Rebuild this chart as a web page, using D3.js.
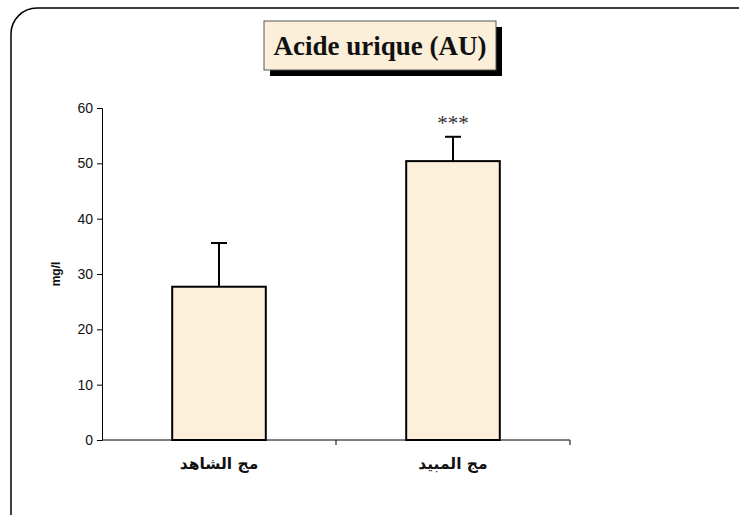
<!DOCTYPE html>
<html>
<head>
<meta charset="utf-8">
<script src="https://cdn.jsdelivr.net/npm/d3@7"></script>
<style>
  html, body { margin: 0; padding: 0; background: #fff; }
  svg { display: block; }
</style>
</head>
<body>
<svg id="chart" width="739" height="515"></svg>
<script>
// Uric acid levels per group (mg/l), mean and upper error
const categories = ["مج الشاهد", "مج المبيد"];
const means = [27.7, 50.4];
const errors = [7.9, 4.4];
const significance = ["", "***"];
const yTicks = [0, 10, 20, 30, 40, 50, 60];
const title = "Acide urique (AU)";
const yLabel = "mg/l";

const svg = d3.select("#chart");

// Rounded frame running off the right and bottom edges
svg.append("rect")
  .attr("x", 11).attr("y", 8)
  .attr("width", 760).attr("height", 540)
  .attr("rx", 26).attr("ry", 26)
  .attr("fill", "#fff")
  .attr("stroke", "#000").attr("stroke-width", 1.5);

const x = d3.scaleBand().domain(categories).range([102, 570]).paddingInner(0.6).paddingOuter(0.3);
const y = d3.scaleLinear().domain([0, 60]).range([440, 108]);

// Title box with drop shadow
const tb = { x: 264, y: 21, w: 232, h: 49 };
svg.append("rect")
  .attr("x", tb.x + 6).attr("y", tb.y + 6)
  .attr("width", tb.w).attr("height", tb.h)
  .attr("fill", "#000");
svg.append("rect")
  .attr("x", tb.x).attr("y", tb.y)
  .attr("width", tb.w).attr("height", tb.h)
  .attr("fill", "#fcefd9").attr("stroke", "#555").attr("stroke-width", 1);
svg.append("text")
  .attr("x", tb.x + tb.w / 2).attr("y", tb.y + tb.h / 2 + 9)
  .attr("text-anchor", "middle")
  .attr("font-family", "'Liberation Serif', 'Times New Roman', serif")
  .attr("font-weight", "bold").attr("font-size", 27)
  .attr("fill", "#111")
  .text(title);

// Y axis
const yAxis = d3.axisLeft(y).tickValues(yTicks).tickSize(5).tickPadding(4);
const gy = svg.append("g").attr("transform", "translate(102,0)").call(yAxis);
gy.select(".domain").attr("stroke", "#000").attr("stroke-width", 1);
gy.selectAll(".tick line").attr("stroke", "#000");
gy.selectAll(".tick text")
  .attr("font-family", "'Liberation Sans', Arial, sans-serif")
  .attr("font-size", 14).attr("fill", "#111");

// X axis: baseline with ticks at band boundaries
svg.append("line")
  .attr("x1", 102).attr("x2", 570).attr("y1", y(0)).attr("y2", y(0))
  .attr("stroke", "#000").attr("stroke-width", 1);
const bounds = [102, 336, 570];
svg.selectAll(".xtick").data(bounds.slice(1)).join("line")
  .attr("class", "xtick")
  .attr("x1", d => d).attr("x2", d => d)
  .attr("y1", y(0)).attr("y2", y(0) + 5)
  .attr("stroke", "#000");

// Category labels
svg.selectAll(".xlab").data(categories).join("text")
  .attr("class", "xlab")
  .attr("x", d => x(d) + x.bandwidth() / 2)
  .attr("y", 469)
  .attr("text-anchor", "middle")
  .attr("direction", "rtl")
  .attr("font-family", "'DejaVu Sans', 'Noto Sans', sans-serif")
  .attr("font-weight", "bold").attr("font-size", 15.5)
  .attr("fill", "#111")
  .text(d => d);

// Y label
svg.append("text")
  .attr("transform", `translate(60,${(y(0) + y(60)) / 2}) rotate(-90)`)
  .attr("text-anchor", "middle")
  .attr("font-family", "'Liberation Sans', Arial, sans-serif")
  .attr("font-weight", "bold").attr("font-size", 12)
  .attr("fill", "#111")
  .text(yLabel);

const data = categories.map((c, i) => ({ c, m: means[i], e: errors[i], s: significance[i] }));

// Error bars (upper only)
const cx = d => x(d.c) + x.bandwidth() / 2;
svg.selectAll(".err").data(data).join("line")
  .attr("class", "err")
  .attr("x1", cx).attr("x2", cx)
  .attr("y1", d => y(d.m)).attr("y2", d => y(d.m + d.e))
  .attr("stroke", "#000").attr("stroke-width", 2);
svg.selectAll(".cap").data(data).join("line")
  .attr("class", "cap")
  .attr("x1", d => cx(d) - 8).attr("x2", d => cx(d) + 8)
  .attr("y1", d => y(d.m + d.e)).attr("y2", d => y(d.m + d.e))
  .attr("stroke", "#000").attr("stroke-width", 2);

// Bars
svg.selectAll(".bar").data(data).join("rect")
  .attr("class", "bar")
  .attr("x", d => x(d.c)).attr("width", x.bandwidth())
  .attr("y", d => y(d.m)).attr("height", d => y(0) - y(d.m))
  .attr("fill", "#fcf0da").attr("stroke", "#000").attr("stroke-width", 2);

// Significance markers
svg.selectAll(".sig").data(data).join("text")
  .attr("class", "sig")
  .attr("x", cx)
  .attr("y", d => y(d.m + d.e) - 7)
  .attr("text-anchor", "middle")
  .attr("font-family", "'Liberation Serif', 'Times New Roman', serif")
  .attr("font-size", 21).attr("fill", "#333")
  .text(d => d.s);
</script>
</body>
</html>
